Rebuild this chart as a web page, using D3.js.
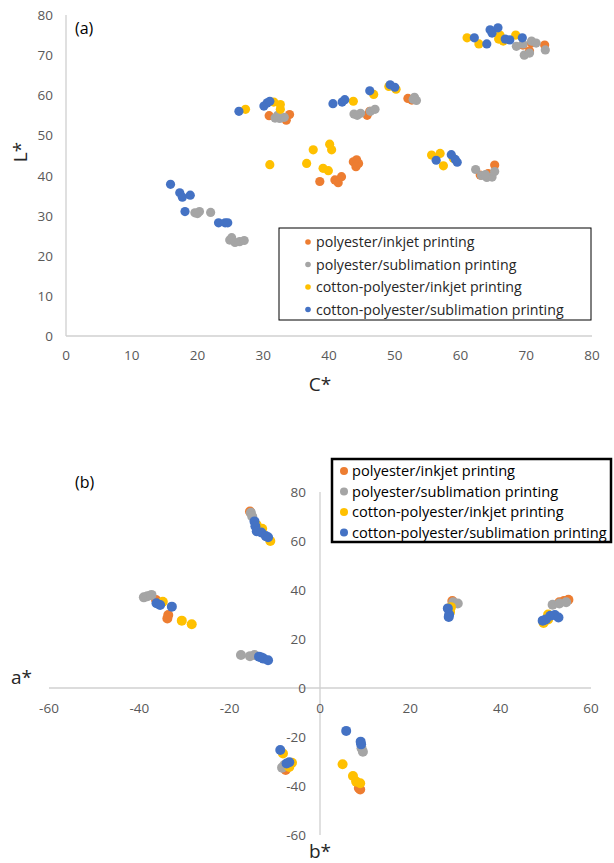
<!DOCTYPE html>
<html>
<head>
<meta charset="utf-8">
<script src="https://cdn.jsdelivr.net/npm/d3@7"></script>
<style>
  body { margin: 0; background: #fff; }
  text { font-family: "Open Sans", Lato, sans-serif; }
</style>
</head>
<body>
<svg id="chart" width="614" height="863"></svg>
<script>
const seriesNames = [
  "polyester/inkjet printing",
  "polyester/sublimation printing",
  "cotton-polyester/inkjet printing",
  "cotton-polyester/sublimation printing"
];
const colors = ["#ED7D31", "#A5A5A5", "#FFC000", "#4472C4"];

// (a) C*, L* per series
const polyInkjetCL = [[30.9,54.9],[34.0,55.2],[33.5,53.8],[45.8,55.0],[46.2,56.0],[52.0,59.2],[52.6,58.8],
  [43.7,43.4],[44.2,43.9],[44.5,43.0],[44.1,42.2],[38.6,38.5],[40.9,38.9],[41.4,38.2],[41.9,39.7],
  [65.2,42.6],[63.0,40.1],[64.2,40.5],[70.8,73.0],[72.8,72.5],[70.5,71.0],[69.5,72.5]];
const polySubCL = [[19.6,30.7],[20.3,31.0],[20.0,30.5],[22.0,30.8],[24.9,23.9],[25.7,23.3],[26.4,23.5],[27.1,23.8],[25.2,24.5],
  [31.8,54.3],[32.5,54.2],[33.2,54.5],[32.2,55.0],[43.8,55.3],[44.8,55.5],[46.3,56.0],[47.0,56.5],[44.3,55.0],
  [53.0,59.5],[53.3,58.7],[52.8,59.0],[62.3,41.5],[63.2,40.0],[64.0,39.5],[64.8,39.6],[65.2,41.0],[63.8,40.2],
  [68.5,72.2],[69.5,72.8],[70.8,73.5],[69.7,70.0],[70.5,70.5],[71.5,73.0],[72.9,71.3]];
const cottonInkjetCL = [[27.3,56.5],[31.6,58.3],[32.6,57.7],[32.6,56.5],[31.0,42.7],
  [37.6,46.4],[40.1,47.8],[40.4,46.4],[36.6,43.0],[39.1,41.8],[39.9,41.2],
  [43.7,58.5],[46.8,60.2],[49.1,62.2],[50.2,61.5],
  [55.6,45.1],[56.9,45.5],[57.4,42.4],[58.9,44.3],
  [61.0,74.3],[62.8,72.8],[66.0,75.0],[66.5,73.5],[68.4,75.0],[65.8,74.0]];
const cottonSubCL = [[15.9,37.8],[17.3,35.7],[17.7,34.6],[18.9,35.1],[18.1,31.0],[23.2,28.2],[24.2,28.2],[24.6,28.2],
  [26.3,56.0],[30.6,58.1],[30.1,57.3],[31.0,58.5],[40.6,57.9],[42.0,58.3],[42.4,58.9],[46.2,61.1],
  [49.3,62.6],[50.0,62.0],[56.3,43.8],[58.6,45.2],[59.5,43.3],[59.2,44.0],
  [62.1,74.3],[64.0,72.8],[64.5,76.3],[65.7,76.8],[66.8,74.0],[67.5,73.8],[69.4,74.3],[64.8,75.5]];

// (b) a*, b* per series
const polyInkjetAB = [[-36.3,35.9],[-33.6,29.8],[-33.8,28.4],[-15.5,72],[29.3,35.5],[54,35.5],[55,36],[53,35],
  [-7.6,-33.5],[8.9,-41.4],[8.6,-40.8]];
const polySubAB = [[-39,37],[-38.2,37.5],[-37.3,38],[-17.5,13.5],[-15.5,13],[-14.5,13.5],[-15.3,71.5],[-15,70],
  [29.5,35],[30.5,34.5],[51.5,34],[53,34.5],[54.5,35],[-7.9,-31.4],[-8.4,-32.5],[9.2,-24.6],[9.5,-26]];
const cottonInkjetAB = [[-34.8,35.2],[-30.6,27.5],[-28.4,26],[-11,60],[-12.8,65],[-14,66.5],[29,33],[28.8,31],
  [49.5,26.5],[50.5,30],[50.5,28],[-8.2,-26.7],[-6.2,-30.5],[-6.8,-32.2],[5,-31.1],[7.3,-35.9],[8,-38.2],[8.9,-38.9]];
const cottonSubAB = [[-36.2,34.6],[-35.4,33.9],[-32.8,33.2],[-13.5,12.8],[-13,12.5],[-12.5,12],[-11.5,11.3],
  [-14.5,68],[-14.3,66],[-14,64],[-13,63.5],[-12,62],[-11.5,61.5],[28.3,32.5],[28.6,30],[28.5,29],
  [49.3,27.5],[51,29.5],[52,29.8],[52.8,28.8],[50,28],[-8.8,-25.3],[-6.8,-30.3],[-7.4,-30.8],
  [5.8,-17.5],[9,-21.9],[9.1,-23]];

const clTicksX = [0,10,20,30,40,50,60,70,80];
const clTicksY = [0,10,20,30,40,50,60,70,80];
const abTicksX = [-60,-40,-20,0,20,40,60];
const abTicksY = [-60,-40,-20,0,20,40,60,80];

const svg = d3.select("#chart");
const axisColor = "#D0D0D0";
const tickColor = "#595959";

// ---------- chart (a) ----------
const xA = d3.scaleLinear().domain([0,80]).range([66,592]);
const yA = d3.scaleLinear().domain([0,80]).range([336,15]);

const gA = svg.append("g");
gA.append("line").attr("x1", xA(0)).attr("x2", xA(80)).attr("y1", yA(0)).attr("y2", yA(0))
  .attr("stroke", axisColor).attr("stroke-width", 1.3);
gA.append("line").attr("x1", xA(0)).attr("x2", xA(0)).attr("y1", yA(0)).attr("y2", yA(80))
  .attr("stroke", axisColor).attr("stroke-width", 1.3);

gA.selectAll(".xt").data(clTicksX).enter().append("text")
  .attr("x", d => xA(d)).attr("y", 360).attr("text-anchor", "middle")
  .attr("font-size", 13.5).attr("fill", tickColor).text(d => d);
gA.selectAll(".yt").data(clTicksY).enter().append("text")
  .attr("x", 53).attr("y", d => yA(d) + 5).attr("text-anchor", "end")
  .attr("font-size", 13.5).attr("fill", tickColor).text(d => d);

gA.append("text").attr("x", 320).attr("y", 391).attr("text-anchor", "middle")
  .attr("font-size", 19).attr("fill", "#262626").text("C*");
gA.append("text").attr("transform", "translate(27,152) rotate(-90)").attr("text-anchor", "middle")
  .attr("font-size", 19).attr("fill", "#262626").text("L*");
gA.append("text").attr("x", 75).attr("y", 34).attr("font-size", 16).attr("fill", "#000").text("(a)");

[polyInkjetCL, polySubCL, cottonInkjetCL, cottonSubCL].forEach((pts, i) => {
  gA.append("g").selectAll("circle").data(pts).enter().append("circle")
    .attr("cx", d => xA(d[0])).attr("cy", d => yA(d[1])).attr("r", 4.6)
    .attr("fill", colors[i]);
});

// legend (a)
const legA = gA.append("g");
legA.append("rect").attr("x", 279).attr("y", 228).attr("width", 312).attr("height", 92)
  .attr("fill", "#fff").attr("stroke", "#000").attr("stroke-width", 1);
seriesNames.forEach((name, i) => {
  const yy = 243 + i * 22.5;
  legA.append("circle").attr("cx", 308).attr("cy", yy - 1).attr("r", 2.8).attr("fill", colors[i]);
  legA.append("text").attr("x", 316).attr("y", yy + 4).attr("font-size", 14.2)
    .attr("fill", "#262626").text(name);
});

// ---------- chart (b) ----------
const xB = d3.scaleLinear().domain([-60,60]).range([49,591]);
const yB = d3.scaleLinear().domain([-60,80]).range([835,492]);

const gB = svg.append("g");
gB.append("line").attr("x1", xB(-60)).attr("x2", xB(60)).attr("y1", yB(0)).attr("y2", yB(0))
  .attr("stroke", axisColor).attr("stroke-width", 1.3);
gB.append("line").attr("x1", xB(0)).attr("x2", xB(0)).attr("y1", yB(-60)).attr("y2", yB(80))
  .attr("stroke", axisColor).attr("stroke-width", 1.3);

gB.selectAll(".xt").data(abTicksX).enter().append("text")
  .attr("x", d => xB(d)).attr("y", 713).attr("text-anchor", "middle")
  .attr("font-size", 13.5).attr("fill", tickColor).text(d => d);
gB.selectAll(".yt").data(abTicksY).enter().append("text")
  .attr("x", 306).attr("y", d => yB(d) + 5).attr("text-anchor", "end")
  .attr("font-size", 13.5).attr("fill", tickColor).text(d => d);

gB.append("text").attr("x", 11).attr("y", 684).attr("font-size", 19).attr("fill", "#262626").text("a*");
gB.append("text").attr("x", 320).attr("y", 858).attr("text-anchor", "middle")
  .attr("font-size", 19).attr("fill", "#262626").text("b*");
gB.append("text").attr("x", 75).attr("y", 488).attr("font-size", 16).attr("fill", "#000").text("(b)");

[polyInkjetAB, polySubAB, cottonInkjetAB, cottonSubAB].forEach((pts, i) => {
  gB.append("g").selectAll("circle").data(pts).enter().append("circle")
    .attr("cx", d => xB(d[0])).attr("cy", d => yB(d[1])).attr("r", 5)
    .attr("fill", colors[i]);
});

// legend (b)
const legB = gB.append("g");
legB.append("rect").attr("x", 332).attr("y", 459).attr("width", 279).attr("height", 83)
  .attr("fill", "#fff").attr("stroke", "#000").attr("stroke-width", 2.5);
seriesNames.forEach((name, i) => {
  const yy = 471 + i * 20.5;
  legB.append("circle").attr("cx", 344).attr("cy", yy).attr("r", 4).attr("fill", colors[i]);
  legB.append("text").attr("x", 352).attr("y", yy + 5).attr("font-size", 14.6)
    .attr("fill", "#000").text(name);
});
</script>
</body>
</html>
